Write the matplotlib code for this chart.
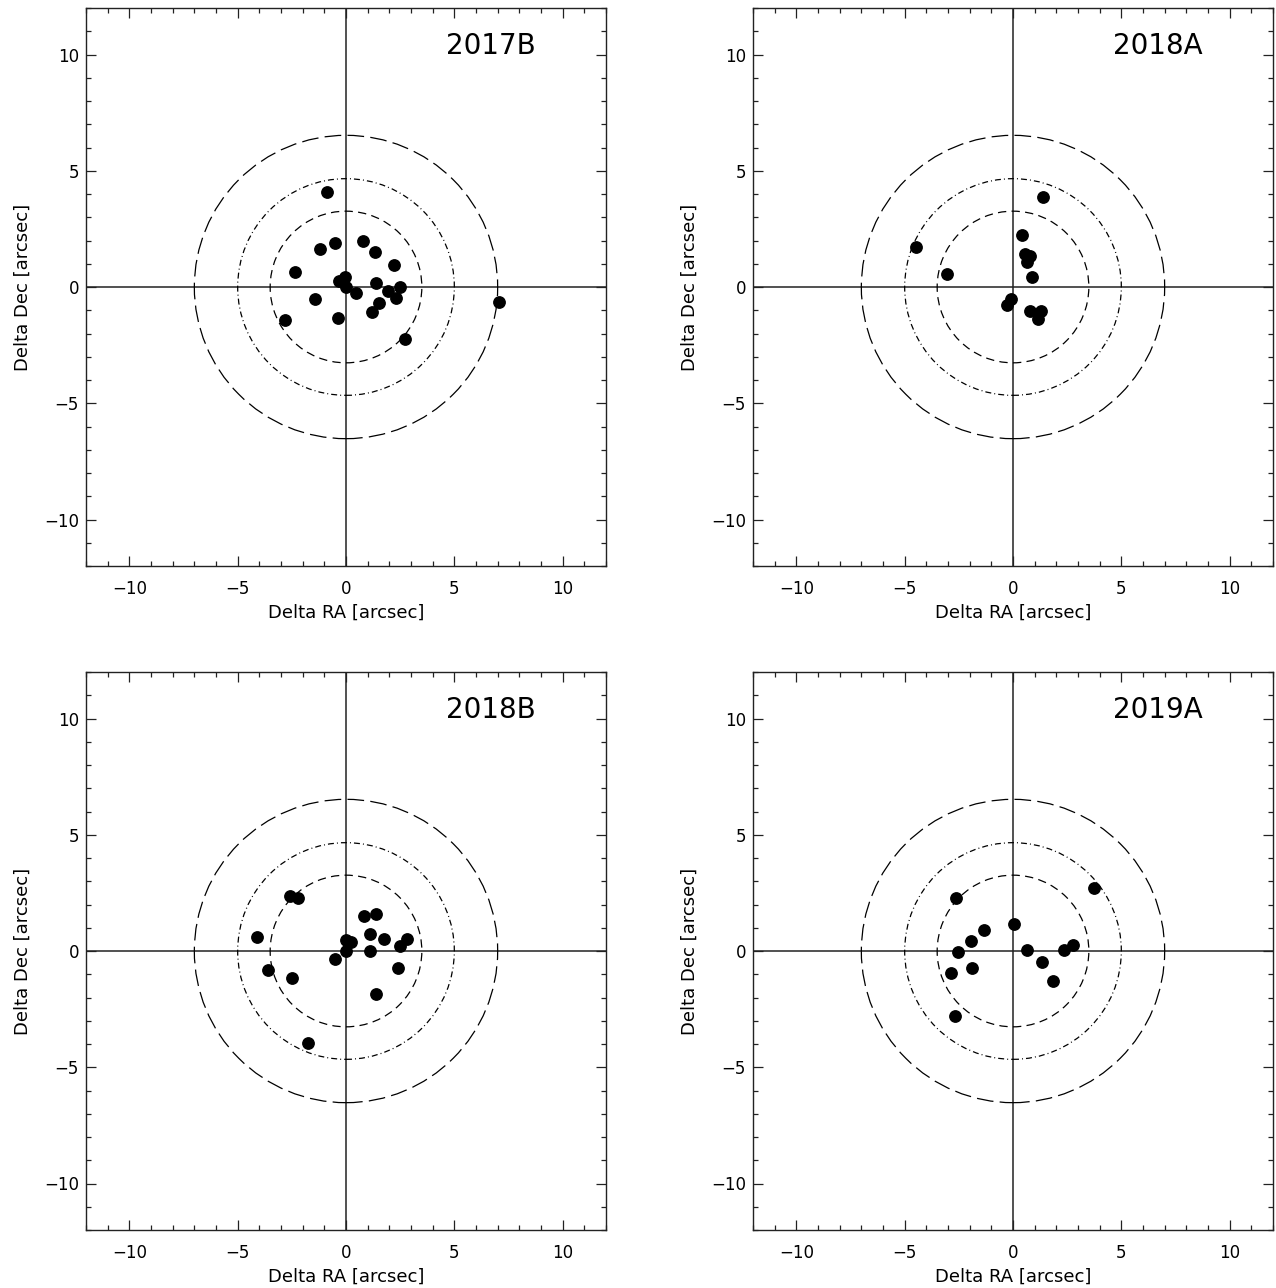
import matplotlib

matplotlib.use("Agg")
import matplotlib.pyplot as plt
from matplotlib.patches import Ellipse
from matplotlib.ticker import MultipleLocator

# --- data ---
ra_2017b = [-0.89, 0.77, -0.49, -1.21, 1.36, 2.20, -2.34, -0.06, -0.32, -0.02, 1.37,
            2.47, 1.96, 0.47, 2.30, 1.51, -1.45, 1.22, -0.36, -2.81, 2.73, 7.08]
dec_2017b = [4.09, 1.96, 1.88, 1.63, 1.51, 0.96, 0.65, 0.42, 0.25, 0.02, 0.16,
             0.02, -0.18, -0.25, -0.46, -0.70, -0.51, -1.07, -1.32, -1.44, -2.23, -0.65]

ra_2018a = [1.40, 0.42, -4.48, 0.54, 0.80, 0.65, -3.05, 0.86, -0.11, -0.26, 0.78, 1.28, 1.14]
dec_2018a = [3.87, 2.24, 1.73, 1.42, 1.35, 1.09, 0.57, 0.44, -0.50, -0.79, -1.02, -1.02, -1.38]

ra_2018b = [-2.60, -2.23, 0.85, 1.38, 1.11, -4.11, 1.75, 2.82, 0.02, 0.22, 2.48,
            -0.02, 1.09, -0.49, -3.60, 2.40, -2.49, 1.38, -1.77]
dec_2018b = [2.35, 2.29, 1.51, 1.61, 0.75, 0.62, 0.52, 0.53, 0.46, 0.39, 0.23,
             0.00, -0.01, -0.36, -0.82, -0.72, -1.16, -1.86, -3.97]

ra_2019a = [3.75, -2.62, 0.06, -1.35, -1.94, 2.77, 2.35, 0.63, -2.55, 1.34, -1.88, -2.86, 1.85, -2.69]
dec_2019a = [2.72, 2.28, 1.15, 0.92, 0.42, 0.26, 0.04, 0.06, -0.04, -0.47, -0.72, -0.93, -1.29, -2.80]

labels = ["2017B", "2018A", "2018B", "2019A"]
ra_sets = [ra_2017b, ra_2018a, ra_2018b, ra_2019a]
dec_sets = [dec_2017b, dec_2018a, dec_2018b, dec_2019a]

# ring radii (arcsec, along RA) and their line styles
ring_radii = [3.5, 5.0, 7.0]
ring_styles = [
    (0, (6.0, 3.8)),
    (0, (4.3, 2.2, 0.7, 2.2)),
    (0, (12.0, 4.5)),
]

plt.rcParams["font.family"] = ["DejaVu Sans"]
plt.rcParams["lines.scale_dashes"] = False

W, H = 1276, 1288
fig = plt.figure(figsize=(W / 100, H / 100), dpi=100)

ax_w, ax_h = 520, 558
lefts = [86, 753, 86, 753]
tops = [8, 8, 672, 672]

for lab, ra, dec, left, top in zip(labels, ra_sets, dec_sets, lefts, tops):
    ax = fig.add_axes([left / W, 1 - (top + ax_h) / H, ax_w / W, ax_h / H])
    ax.set_xlim(-12, 12)
    ax.set_ylim(-12, 12)

    ax.axhline(0, color="#222222", lw=1.1, zorder=1)
    ax.axvline(0, color="#222222", lw=1.1, zorder=1)

    # rings are round on the page, so squash them in data units
    k = ax_w / ax_h
    for r, ls in zip(ring_radii, ring_styles):
        ax.add_patch(Ellipse((0, 0), 2 * r, 2 * r * k, fill=False,
                             edgecolor="black", lw=0.9, linestyle=ls, zorder=2))

    ax.plot(ra, dec, "o", color="black", ms=8.2, zorder=3)

    ax.text(0.779, 0.932, lab, transform=ax.transAxes, ha="center", va="center",
            fontsize=20)

    ax.xaxis.set_major_locator(MultipleLocator(5))
    ax.xaxis.set_minor_locator(MultipleLocator(1))
    ax.yaxis.set_major_locator(MultipleLocator(5))
    ax.yaxis.set_minor_locator(MultipleLocator(1))
    ax.tick_params(which="both", direction="in", top=True, right=True,
                   labelsize=12, width=0.9, color="#222222")
    ax.tick_params(which="major", length=7.5)
    ax.tick_params(which="minor", length=3.8)
    ax.tick_params(axis="x", which="major", pad=10)
    ax.tick_params(axis="y", which="major", pad=5)
    for s in ax.spines.values():
        s.set_linewidth(1.0)
        s.set_color("#222222")

    ax.set_xlabel("Delta RA [arcsec]", fontsize=13, labelpad=4)
    ax.set_ylabel("Delta Dec [arcsec]", fontsize=13, labelpad=9)

fig.savefig("out.png", dpi=100)
